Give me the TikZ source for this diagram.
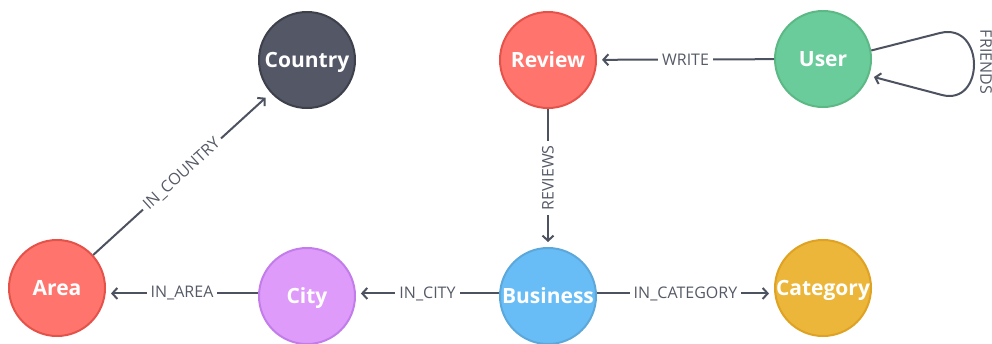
\documentclass[tikz,border=0pt]{standalone}
\usepackage{fontspec}
\setmainfont{Open Sans}
\usetikzlibrary{arrows.meta}
\definecolor{edgecol}{HTML}{4D5260}
\definecolor{lblcol}{HTML}{555A66}
\definecolor{countryfill}{HTML}{535766}
\definecolor{countryline}{HTML}{3E414B}
\definecolor{redfill}{HTML}{FF756E}
\definecolor{redline}{HTML}{E5524A}
\definecolor{greenfill}{HTML}{6BCC9B}
\definecolor{greenline}{HTML}{5CB985}
\definecolor{purplefill}{HTML}{DE9BF9}
\definecolor{purpleline}{HTML}{C27DEB}
\definecolor{bluefill}{HTML}{68BDF6}
\definecolor{blueline}{HTML}{5CA8DB}
\definecolor{yellowfill}{HTML}{ECB63A}
\definecolor{yellowline}{HTML}{DFA222}
\begin{document}
\begin{tikzpicture}[x=1pt,y=-1pt,
  ent/.style={circle, minimum size=96pt, inner sep=0pt, line width=2pt,
    text height=15pt, text depth=0pt,
    font=\fontsize{21}{23}\selectfont\bfseries, text=white},
  rel/.style={draw=edgecol, line width=2pt,
    -{Straight Barb[length=5pt,width=11pt,line width=2pt]}, shorten >=5pt},
  lbl/.style={fill=white, text=lblcol, inner xsep=4pt, inner ysep=2pt,
    font=\fontsize{16}{18}\selectfont}]
  \useasboundingbox (0,0) rectangle (992,343);

  % entity nodes
  \node[ent, fill=countryfill, draw=countryline] (country) at (307,60) {Country};
  \node[ent, fill=redfill, draw=redline] (review) at (548,60) {Review};
  \node[ent, fill=greenfill, draw=greenline] (user) at (823,59) {User};
  \node[ent, fill=redfill, draw=redline] (area) at (57,288) {Area};
  \node[ent, fill=purplefill, draw=purpleline] (city) at (307,296) {City};
  \node[ent, fill=bluefill, draw=blueline] (business) at (548,296) {Business};
  \node[ent, fill=yellowfill, draw=yellowline] (category) at (823,288) {Category};

  % relationships
  \draw[rel] (user) -- node[lbl, sloped] {WRITE} (review);
  \draw[rel] (review) -- node[lbl, rotate=90] {REVIEWS} (business);
  \draw[rel] (business.177) -- node[lbl] {IN\_CITY} (city.3);
  \draw[rel] (city.177) -- node[lbl] {IN\_AREA} (area.east |- city.177);
  \draw[rel] (business.3) -- node[lbl] {IN\_CATEGORY} (category.west |- business.3);
  \draw[rel, shorten >=7pt] (area) -- node[lbl, sloped] {IN\_COUNTRY} (country);

  % self loop on User
  \coordinate (loopA) at (940,33);
  \coordinate (loopB) at (942,95);
  \draw[rel] (user.10) -- (loopA) .. controls (985,22) and (985,106) .. (loopB)
    -- (user.-20);
  \node[lbl, fill=none, rotate=-90] (friends) at (986,62) {FRIENDS};
\end{tikzpicture}
\end{document}
